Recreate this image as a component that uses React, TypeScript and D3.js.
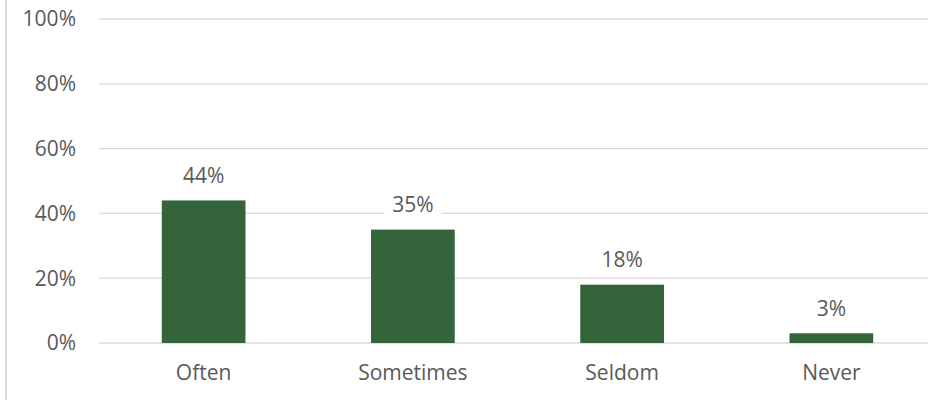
import React from "react";
import * as d3 from "d3";

const categories = ["Often", "Sometimes", "Seldom", "Never"];
const values = [0.44, 0.35, 0.18, 0.03];
const valueLabels = ["44%", "35%", "18%", "3%"];
const yTicks = [0, 0.2, 0.4, 0.6, 0.8, 1.0];

const W = 930;
const H = 403;
const plotLeft = 99;
const plotRight = 928;
const bandRight = 936;
const plotTop = 19;
const plotBottom = 343;
const barColor = "#33643A";
const textColor = "#595959";
const gridColor = "#D9D9D9";
const font = "'Open Sans', sans-serif";
const fs = 21;

export default function App() {
  const x = d3.scaleBand<string>().domain(categories).range([plotLeft, bandRight]).paddingInner(0.6).paddingOuter(0.3);
  const y = d3.scaleLinear().domain([0, 1]).range([plotBottom, plotTop]);
  const fmt = d3.format(".0%");
  return (
    <svg width={W} height={H} style={{ position: "absolute", left: 0, top: 0, background: "#fff" }} fontFamily={font}>
      <line x1={6} x2={6} y1={0} y2={400} stroke={gridColor} strokeWidth={2} />
      {yTicks.map((t) => (
        <g key={t}>
          <line x1={plotLeft} x2={plotRight} y1={y(t)} y2={y(t)} stroke={gridColor} strokeWidth={1.3} />
          <text x={76} y={y(t)} dy="0.35em" textAnchor="end" fontSize={fs} fill={textColor}>
            {fmt(t)}
          </text>
        </g>
      ))}
      {categories.map((c, i) => {
        const bx = x(c)!;
        const bw = x.bandwidth();
        const cx = bx + bw / 2;
        const lw = valueLabels[i].length * 14 + 15;
        return (
          <g key={c}>
            <rect x={bx} y={y(values[i])} width={bw} height={plotBottom - y(values[i])} fill={barColor} />
            <rect x={cx - lw / 2} y={y(values[i]) - 38} width={lw} height={26} fill="#fff" />
            <text x={cx} y={y(values[i]) - 25} dy="0.35em" textAnchor="middle" fontSize={fs} fill={textColor}>
              {valueLabels[i]}
            </text>
            <text x={cx} y={373} dy="0.35em" textAnchor="middle" fontSize={fs} fill={textColor}>
              {c}
            </text>
          </g>
        );
      })}
    </svg>
  );
}
